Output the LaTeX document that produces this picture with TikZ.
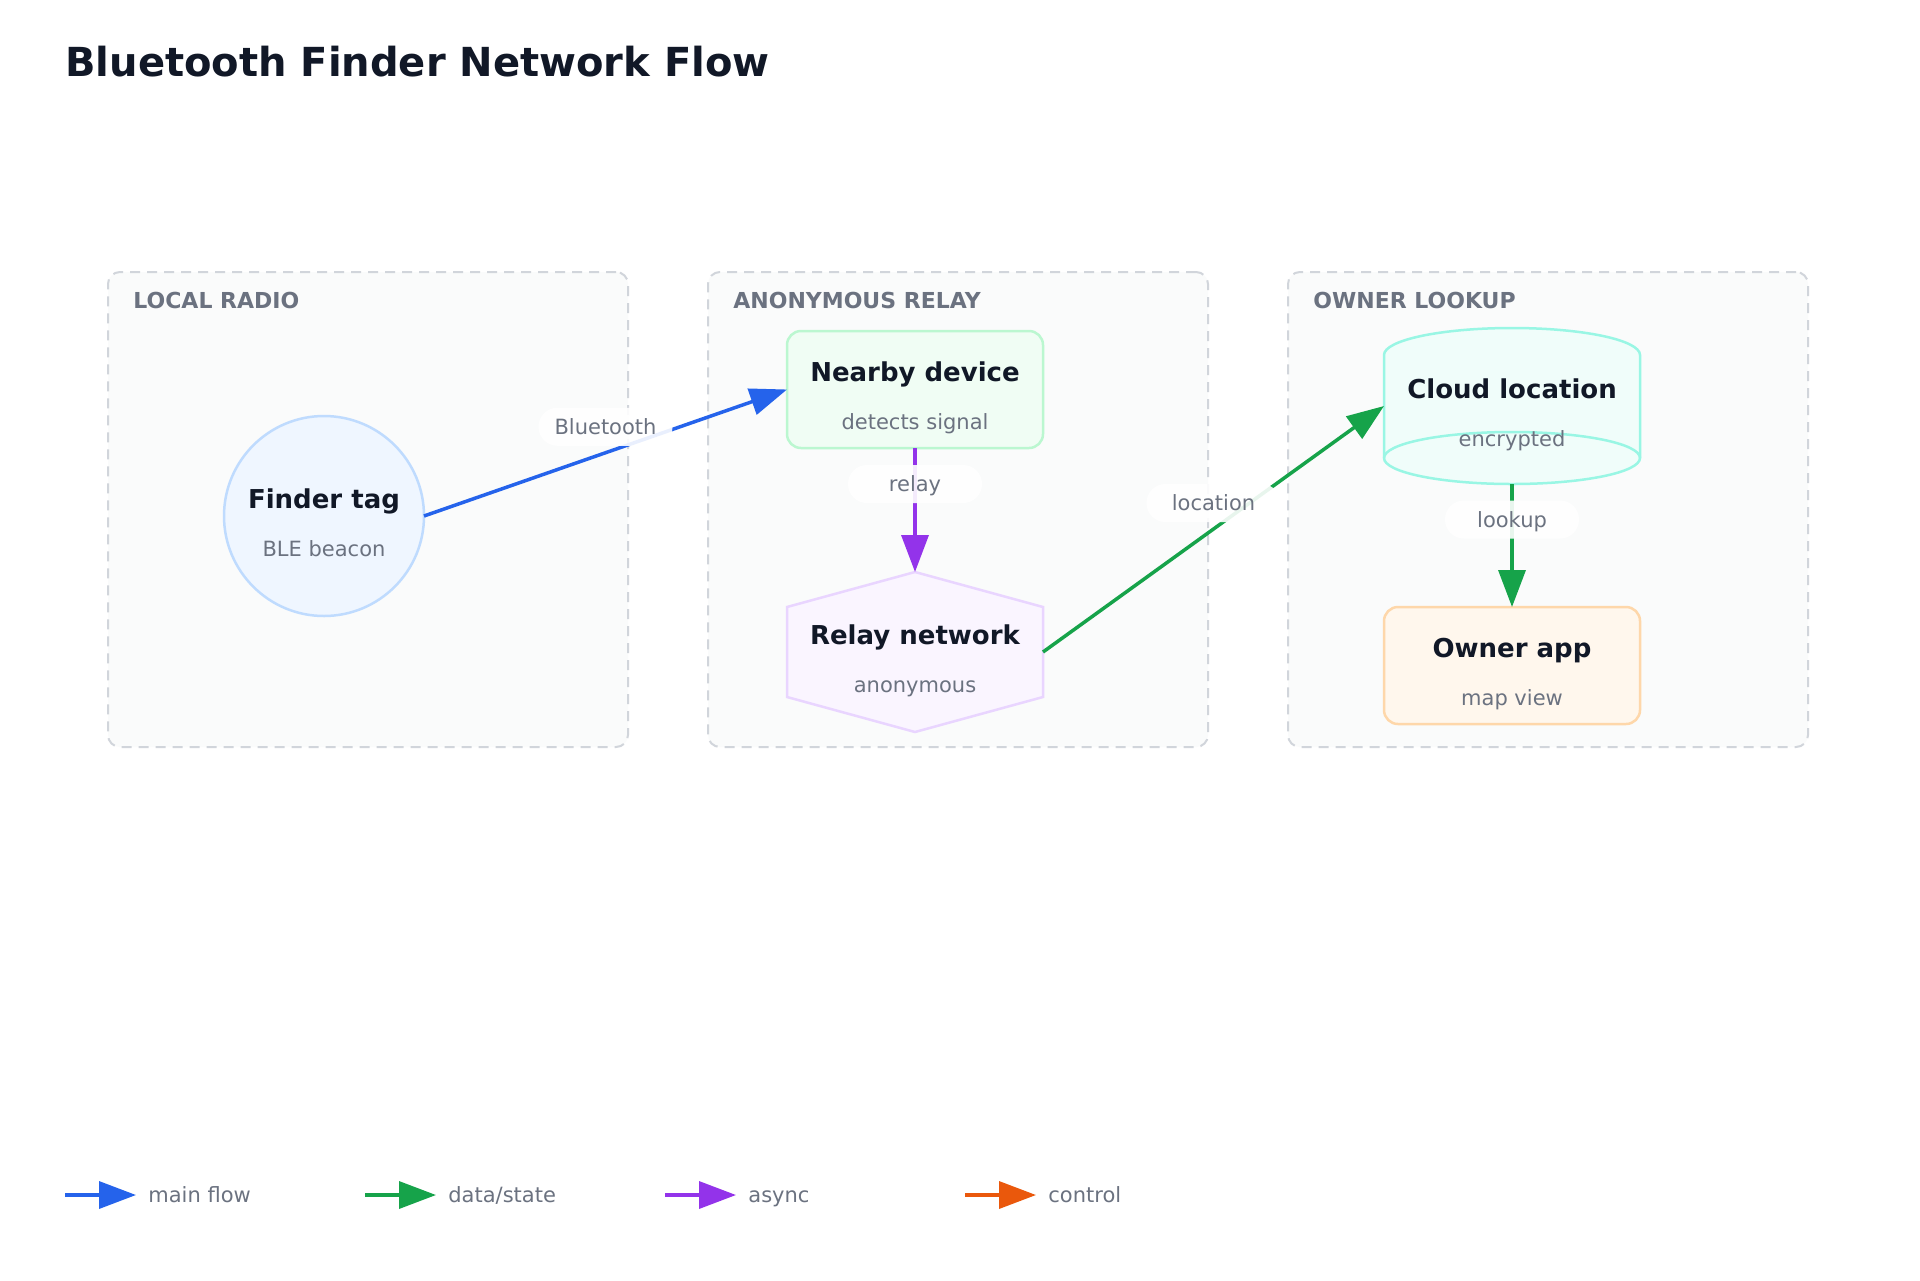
\documentclass[tikz,border=0pt]{standalone}
\usepackage{fontspec}
\setmainfont{DejaVu Sans}
\usetikzlibrary{arrows.meta,calc}
\definecolor{ink}{HTML}{111827}
\definecolor{muted}{HTML}{6B7280}
\definecolor{regionfill}{HTML}{FAFBFB}
\definecolor{regionline}{HTML}{D1D5DB}
\definecolor{cblue}{HTML}{2563EB}
\definecolor{cgreen}{HTML}{16A34A}
\definecolor{cpurple}{HTML}{9333EA}
\definecolor{corange}{HTML}{EA580C}
\definecolor{tagfill}{HTML}{EFF6FF}
\definecolor{tagline}{HTML}{BFDBFE}
\definecolor{nearfill}{HTML}{F0FDF4}
\definecolor{nearline}{HTML}{BBF7D0}
\definecolor{hexfill}{HTML}{FAF5FF}
\definecolor{hexline}{HTML}{E9D5FF}
\definecolor{cloudfill}{HTML}{F0FDFA}
\definecolor{cloudline}{HTML}{99F6E4}
\definecolor{ownfill}{HTML}{FFF7ED}
\definecolor{ownline}{HTML}{FED7AA}
\tikzset{
  region/.style={draw=regionline, fill=regionfill, line width=1pt, dash pattern=on 5pt off 3.5pt, rounded corners=6pt, inner sep=0, outer sep=0},
  regionlabel/.style={anchor=base west, text=muted, font=\fontsize{11}{13}\selectfont\bfseries, inner sep=0},
  ntitle/.style={anchor=base, text=ink, font=\fontsize{13}{15}\selectfont\bfseries, inner sep=0},
  nsub/.style={anchor=base, text=muted, font=\fontsize{10.5}{12}\selectfont, inner sep=0},
  elabel/.style={fill=white, fill opacity=0.9, text opacity=1, text=muted, font=\fontsize{10.5}{12}\selectfont, rounded corners=9.5pt, minimum width=67pt, minimum height=19pt, inner sep=0, text height=7.7pt, text depth=0pt, yshift=13pt},
  legtext/.style={anchor=west, text=muted, font=\fontsize{10.5}{12}\selectfont, inner sep=0, text height=7.7pt, text depth=0pt},
  flow/.style={line width=1.75pt, -{Triangle[length=18.5pt,width=13.5pt]}},
  boxnode/.style={rectangle, rounded corners=7pt, line width=1.25pt, minimum width=128pt, minimum height=58.5pt, inner sep=0, outer sep=0},
  ghost/.style={rectangle, inner sep=0, outer sep=0}
}
\begin{document}
\begin{tikzpicture}[x=0.5pt,y=-0.5pt]
\fill[white] (0,0) rectangle (1920,1280);
\useasboundingbox (0,0) rectangle (1920,1280);

% title
\node[anchor=base west, inner sep=0, text=ink, font=\fontsize{20}{24}\selectfont\bfseries] (title) at (65,76) {Bluetooth Finder Network Flow};

% regions
\node[region, minimum width=260pt, minimum height=237.5pt] (r1) at (368,509.5) {};
\node[region, minimum width=250pt, minimum height=237.5pt] (r2) at (958,509.5) {};
\node[region, minimum width=260pt, minimum height=237.5pt] (r3) at (1548,509.5) {};
\node[regionlabel] (r1l) at ($(r1.north west)+(25,36)$) {LOCAL RADIO};
\node[regionlabel] (r2l) at ($(r2.north west)+(25,36)$) {ANONYMOUS RELAY};
\node[regionlabel] (r3l) at ($(r3.north west)+(25,36)$) {OWNER LOOKUP};

% Finder tag
\node[circle, draw=tagline, fill=tagfill, line width=1.25pt, minimum size=100pt, inner sep=0, outer sep=0] (tag) at (324,516) {};
\node[ntitle] (tagt) at ($(tag.center)+(0,-8)$) {Finder tag};
\node[nsub] (tags) at ($(tag.center)+(0,40)$) {BLE beacon};

% Nearby device
\node[boxnode, draw=nearline, fill=nearfill] (nearby) at (915,389.5) {};
\node[ntitle] (neart) at ($(nearby.center)+(0,-8)$) {Nearby device};
\node[nsub] (nears) at ($(nearby.center)+(0,40)$) {detects signal};

% Relay network (hexagon)
\node[ghost, minimum width=128pt, minimum height=80pt] (relay) at (915,652) {};
\draw[draw=hexline, fill=hexfill, line width=1.25pt] (relay.north) -- (1043,607) -- (1043,697) -- (relay.south) -- (787,697) -- (787,607) -- cycle;
\node[ntitle] (relayt) at ($(relay.center)+(0,-8)$) {Relay network};
\node[nsub] (relays) at ($(relay.center)+(0,40)$) {anonymous};

% Cloud location (cylinder)
\node[ghost, minimum width=128pt, minimum height=78pt] (cloud) at (1512,406) {};
\draw[draw=cloudline, fill=cloudfill, line width=1.25pt] (1384,355) arc[start angle=180, end angle=360, x radius=128, y radius=27] -- (1640,458) arc[start angle=0, end angle=180, x radius=128, y radius=26] -- cycle;
\draw[draw=cloudline, line width=1.25pt] (1384,458) arc[start angle=180, end angle=360, x radius=128, y radius=26];
\node[ntitle] (cloudt) at ($(cloud.center)+(0,-8)$) {Cloud location};
\node[nsub] (clouds) at ($(cloud.center)+(0,40)$) {encrypted};

% Owner app
\node[boxnode, draw=ownline, fill=ownfill] (owner) at (1512,665.5) {};
\node[ntitle] (ownert) at ($(owner.center)+(0,-8)$) {Owner app};
\node[nsub] (owners) at ($(owner.center)+(0,40)$) {map view};

% edges
\draw[flow, draw=cblue] (tag.east) -- node[elabel] (e1) {Bluetooth} (nearby.west);
\draw[flow, draw=cpurple] (nearby.south) -- node[elabel] (e2) {relay} (relay.north);
\draw[flow, draw=cgreen] (relay.east) -- node[elabel] (e3) {location} (cloud.west);
\draw[flow, draw=cgreen] (cloud.south) -- node[elabel] (e4) {lookup} (owner.north);

% legend
\coordinate (l1a) at (65,1195); \coordinate (l1b) at (136,1195);
\coordinate (l2a) at (365,1195); \coordinate (l2b) at (436,1195);
\coordinate (l3a) at (665,1195); \coordinate (l3b) at (736,1195);
\coordinate (l4a) at (965,1195); \coordinate (l4b) at (1036,1195);
\draw[flow, draw=cblue] (l1a) -- (l1b);
\draw[flow, draw=cgreen] (l2a) -- (l2b);
\draw[flow, draw=cpurple] (l3a) -- (l3b);
\draw[flow, draw=corange] (l4a) -- (l4b);
\node[legtext] (l1t) at (148,1195) {main flow};
\node[legtext] (l2t) at (448,1195) {data/state};
\node[legtext] (l3t) at (748,1195) {async};
\node[legtext] (l4t) at (1048,1195) {control};
\end{tikzpicture}
\end{document}
